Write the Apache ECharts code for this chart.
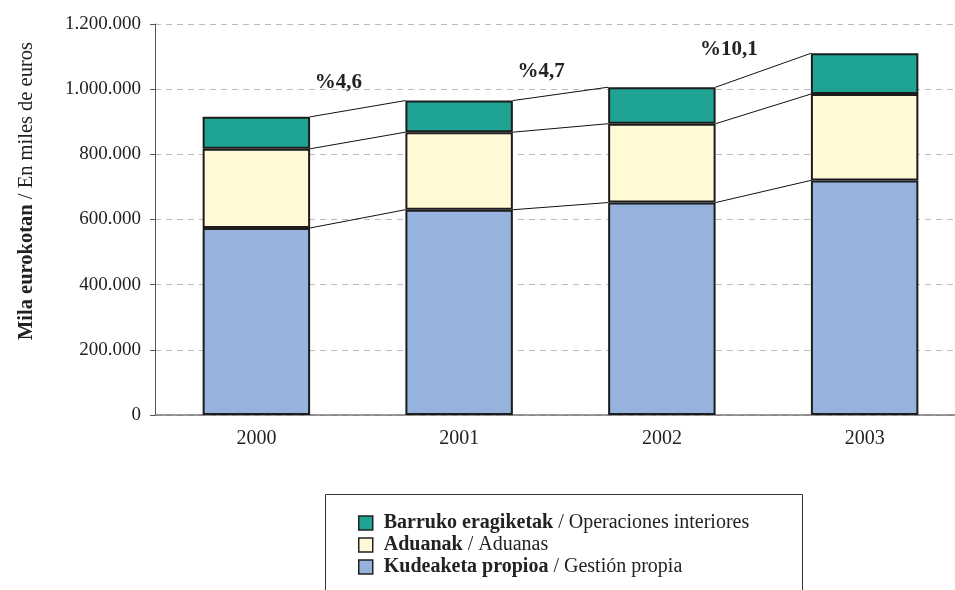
<!DOCTYPE html>
<html>
<head>
<meta charset="utf-8">
<script src="https://cdn.jsdelivr.net/npm/echarts@6/dist/echarts.min.js"></script>
<style>html,body{margin:0;padding:0;background:#fff;overflow:hidden}#c{width:975px;height:590px}</style>
</head>
<body>
<div id="c"></div>
<script>
const years = ['2000', '2001', '2002', '2003'];
const kudeaketa = [574000, 630000, 652000, 720000];
const aduanak = [243000, 238000, 242000, 265000];
const barruko = [98000, 97000, 112000, 125000];
const growthLabels = ['%4,6', '%4,7', '%10,1'];
const growthLabelX = [0.405, 1.404, 2.33];      // position between categories (category units)
const growthLabelY = [1020000, 1055000, 1120000];
const yTicks = { min: 0, max: 1200000, interval: 200000 };
const seriesNames = ['Barruko eragiketak / Operaciones interiores', 'Aduanak / Aduanas', 'Kudeaketa propioa / Gestión propia'];

const FONT = '"Liberation Serif", "Times New Roman", serif';
const chart = echarts.init(document.getElementById('c'));
const cum1 = kudeaketa.slice();
const cum2 = kudeaketa.map((v, i) => v + aduanak[i]);
const cum3 = cum2.map((v, i) => v + barruko[i]);
const BAR_FRAC = 0.53;

function fmt(v) { return String(v).replace(/\B(?=(\d{3})+(?!\d))/g, '.'); }

chart.setOption({
  animation: false,
  grid: { left: 155, top: 24, width: 811, height: 391, containLabel: false },
  xAxis: {
    type: 'category', data: years,
    axisLine: { lineStyle: { color: '#777', width: 1.5 } },
    axisTick: { length: 5, lineStyle: { color: '#777' } },
    axisLabel: { color: '#222', fontFamily: FONT, fontSize: 20, margin: 14 }
  },
  yAxis: {
    type: 'value', min: yTicks.min, max: yTicks.max, interval: yTicks.interval,
    axisLine: { show: true, lineStyle: { color: '#555' } },
    axisTick: { show: true, length: 5, lineStyle: { color: '#555' } },
    axisLabel: { color: '#222', fontFamily: FONT, fontSize: 19, margin: 14, formatter: fmt },
    splitLine: { lineStyle: { color: '#bbb', type: [6, 5] } }
  },
  legend: {
    orient: 'vertical', left: 353, top: 508,
    data: seriesNames,
    itemWidth: 14, itemHeight: 14, itemGap: 2,
    icon: 'rect',
    itemStyle: { borderColor: '#222', borderWidth: 1.5 },
    textStyle: {
      fontFamily: FONT, fontSize: 20, color: '#222', padding: [0, 0, 0, 6],
      rich: { b: { fontFamily: FONT, fontSize: 20, fontWeight: 'bold', color: '#222' } }
    },
    formatter: function (n) { const p = n.split(' / '); return '{b|' + p[0] + '} / ' + p[1]; }
  },
  graphic: [
    { type: 'rect', left: 323, top: 492, shape: { width: 477, height: 120 },
      style: { fill: 'none', stroke: '#333', lineWidth: 1 }, silent: true },
    { type: 'text', x: 27, y: 191, rotation: Math.PI / 2,
      style: {
        text: '{b|Mila eurokotan} / En miles de euros',
        align: 'center', verticalAlign: 'middle',
        fontFamily: FONT, fontSize: 20.5, fill: '#222',
        rich: { b: { fontFamily: FONT, fontSize: 20.5, fontWeight: 'bold', fill: '#222' } }
      } }
  ],
  series: [
    { name: seriesNames[2], type: 'bar', stack: 's', data: kudeaketa, barWidth: (BAR_FRAC * 100) + '%',
      itemStyle: { color: '#95b3dc', borderColor: '#1c1c1c', borderWidth: 2 } },
    { name: seriesNames[1], type: 'bar', stack: 's', data: aduanak,
      itemStyle: { color: '#fff9d6', borderColor: '#1c1c1c', borderWidth: 2 } },
    { name: seriesNames[0], type: 'bar', stack: 's', data: barruko,
      itemStyle: { color: '#1fa392', borderColor: '#1c1c1c', borderWidth: 2 } },
    { type: 'custom', silent: true, z: 1,
      data: [0, 1, 2],
      renderItem: function (params, api) {
        const i = api.value(0);
        const band = api.size([1, 0])[0];
        const half = band * BAR_FRAC / 2;
        const children = [];
        [cum1, cum2, cum3].forEach(function (c) {
          const a = api.coord([i, c[i]]);
          const b = api.coord([i + 1, c[i + 1]]);
          children.push({ type: 'line', shape: { x1: a[0] + half, y1: a[1], x2: b[0] - half, y2: b[1] },
            style: { stroke: '#111', lineWidth: 1 } });
        });
        const p0 = api.coord([i, growthLabelY[i]]);
        const tx = p0[0] + (growthLabelX[i] - i) * band;
        children.push({ type: 'text', x: tx, y: p0[1],
          style: { text: growthLabels[i], align: 'center', verticalAlign: 'middle',
            fontFamily: FONT, fontSize: 21, fontWeight: 'bold', fill: '#222' } });
        return { type: 'group', children: children };
      }
    }
  ]
});
</script>
</body>
</html>
